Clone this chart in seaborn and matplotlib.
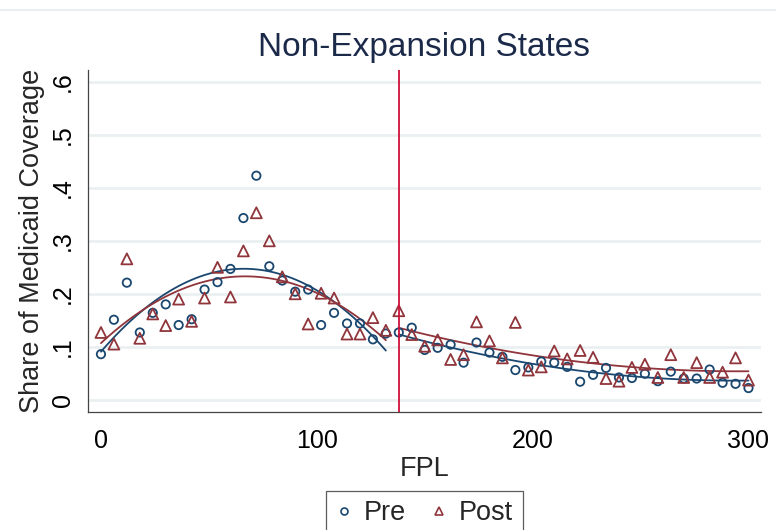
import numpy as np
import pandas as pd
import matplotlib
matplotlib.use("Agg")
import matplotlib.pyplot as plt
import seaborn as sns
from matplotlib.lines import Line2D

# ---- data ----
fpl = list(range(0, 301, 6))
pre = [0.086, 0.151, 0.221, 0.127, 0.164, 0.180, 0.141, 0.152, 0.208, 0.222,
       0.247, 0.343, 0.423, 0.252, 0.225, 0.204, 0.208, 0.141, 0.164, 0.144,
       0.144, 0.114, 0.125, 0.127, 0.136, 0.094, 0.098, 0.104, 0.070, 0.108,
       0.089, 0.081, 0.056, 0.061, 0.072, 0.070, 0.062, 0.034, 0.047, 0.060,
       0.042, 0.041, 0.049, 0.035, 0.053, 0.040, 0.040, 0.057, 0.032, 0.030,
       0.022]
post = [0.127, 0.105, 0.266, 0.116, 0.162, 0.140, 0.190, 0.148, 0.192, 0.250,
        0.194, 0.281, 0.353, 0.300, 0.232, 0.200, 0.143, 0.201, 0.192, 0.124,
        0.124, 0.155, 0.131, 0.168, 0.123, 0.101, 0.113, 0.076, 0.085, 0.147,
        0.111, 0.079, 0.146, 0.056, 0.062, 0.092, 0.077, 0.093, 0.080, 0.040,
        0.035, 0.061, 0.067, 0.042, 0.085, 0.042, 0.070, 0.042, 0.052, 0.079,
        0.037]
cutoff = 138
yticks = [0, 0.1, 0.2, 0.3, 0.4, 0.5, 0.6]
ytick_labels = ["0", ".1", ".2", ".3", ".4", ".5", ".6"]
xticks = [0, 100, 200, 300]

df = pd.DataFrame({"fpl": fpl, "pre": pre, "post": post})
left = df[df.fpl < cutoff]
right = df[df.fpl >= cutoff]

NAVY = "#1a476f"
MAROON = "#90353b"
RED = "#d0103a"
GRID = "#eaf0f1"

sns.set_style("white")
plt.rcParams["font.family"] = ["Liberation Sans", "DejaVu Sans"]

fig = plt.figure(figsize=(7.76, 5.30), dpi=100)
ax = fig.add_axes([88 / 776, 1 - 412 / 530, (761 - 88) / 776, (412 - 70) / 530])

for y in yticks:
    ax.axhline(y, color=GRID, lw=2.0, zorder=0)

sns.scatterplot(x="fpl", y="pre", data=df, ax=ax, marker="o", s=36,
                facecolor="none", edgecolor=NAVY, linewidth=1.3, zorder=3)
sns.scatterplot(x="fpl", y="post", data=df, ax=ax, marker="^", s=62,
                facecolor="none", edgecolor=MAROON, linewidth=1.3, zorder=3)

for seg in (left, right):
    sns.regplot(x="fpl", y="pre", data=seg, ax=ax, order=2, ci=None,
                scatter=False, truncate=True, line_kws=dict(color=NAVY, lw=1.3))
    sns.regplot(x="fpl", y="post", data=seg, ax=ax, order=2, ci=None,
                scatter=False, truncate=True, line_kws=dict(color=MAROON, lw=1.3))

ax.axvline(cutoff, color=RED, lw=1.3, zorder=4)

ax.set_xlim(-6.0, 305.8)
ax.set_ylim(-0.0232, 0.6226)
ax.set_yticks(yticks)
ax.set_yticklabels(ytick_labels, rotation=90, va="center")
ax.set_xticks(xticks)
ax.tick_params(axis="both", direction="out", length=5.5, width=0.9,
               color="#333333", labelsize=18, labelcolor="black")
ax.tick_params(axis="x", pad=7)
ax.tick_params(axis="y", pad=4)
for s in ("top", "right"):
    ax.spines[s].set_visible(False)
for s in ("left", "bottom"):
    ax.spines[s].set_color("#444444")
    ax.spines[s].set_linewidth(0.9)

ax.set_xlabel("FPL", fontsize=19.5, labelpad=2)
ax.set_ylabel("Share of Medicaid Coverage", fontsize=19.5, labelpad=4)
ax.set_title("Non-Expansion States", fontsize=24, color="#1c2a4a", pad=10)

handles = [
    Line2D([], [], marker="o", ls="none", markersize=5, markerfacecolor="none",
           markeredgecolor=NAVY, markeredgewidth=1.2),
    Line2D([], [], marker="^", ls="none", markersize=6, markerfacecolor="none",
           markeredgecolor=MAROON, markeredgewidth=1.2),
]
leg = fig.legend(handles, ["Pre", "Post"], loc="upper center",
                 bbox_to_anchor=(424.5 / 776, 1 - 490.7 / 530), ncol=2,
                 fontsize=19.5, frameon=True, fancybox=False,
                 handlelength=0.6, handletextpad=0.45, columnspacing=0.9,
                 borderpad=0.35, borderaxespad=0)
leg.get_frame().set_edgecolor("#333333")
leg.get_frame().set_linewidth(0.9)

fig.add_artist(Line2D([0, 1], [1 - 10 / 530, 1 - 10 / 530],
                      transform=fig.transFigure, color=GRID, lw=1.5))

fig.savefig("out.png", dpi=100)
